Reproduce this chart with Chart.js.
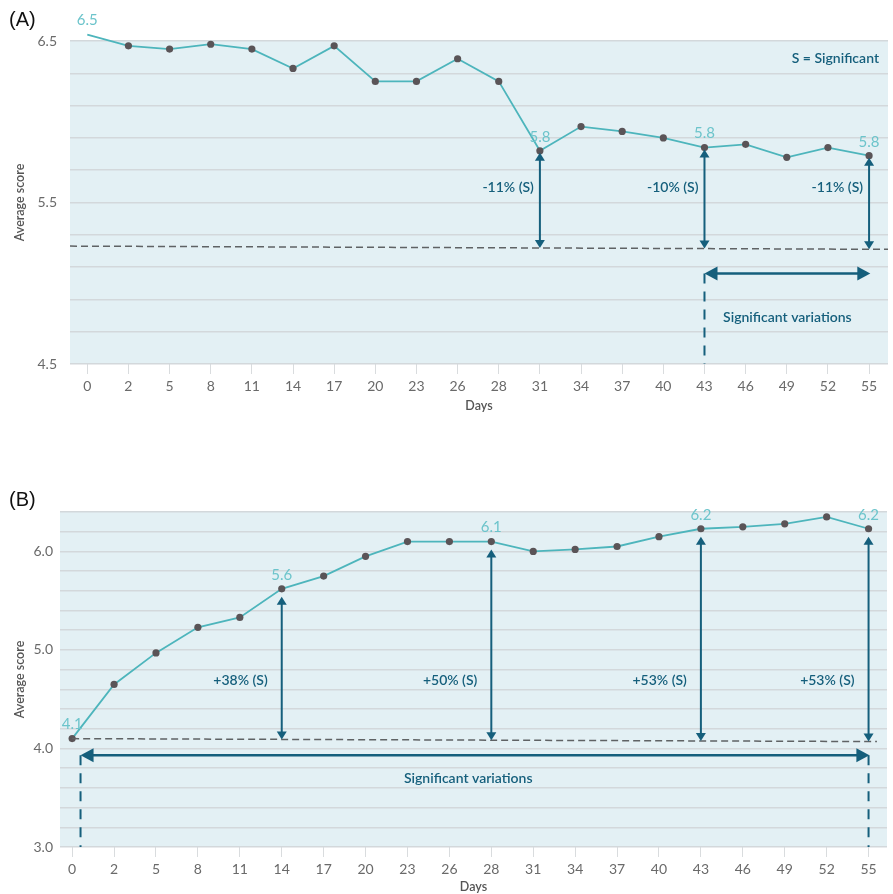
<!DOCTYPE html>
<html><head><meta charset="utf-8">
<script src="https://cdn.jsdelivr.net/npm/chart.js@4.4.1/dist/chart.umd.min.js"></script>
<style>
html,body{margin:0;padding:0;background:#fff;overflow:hidden;}
#wrapA{position:absolute;left:0;top:0;width:893px;height:430px;}
#wrapB{position:absolute;left:0;top:440px;width:893px;height:454px;}
</style></head><body>
<div id="wrapA"><canvas id="cA"></canvas></div>
<div id="wrapB"><canvas id="cB"></canvas></div>
<script>
// ---- data ----
const days = ['0','2','5','8','11','14','17','20','23','26','28','31','34','37','40','43','46','49','52','55'];
const scoresA = [6.54,6.47,6.45,6.48,6.45,6.33,6.47,6.25,6.25,6.39,6.25,5.82,5.97,5.94,5.90,5.84,5.86,5.78,5.84,5.79];
const scoresB = [4.10,4.65,4.97,5.23,5.33,5.62,5.75,5.95,6.10,6.10,6.10,6.00,6.02,6.05,6.15,6.23,6.25,6.28,6.35,6.23];
const yLabelsA = [4.5,5.5,6.5];
const yLabelsB = [3.0,4.0,5.0,6.0];
const baselineA = [5.23,5.21];
const baselineB = [4.10,4.07];
const labelledDaysA = ['0','31','43','55'];
const labelledDaysB = ['0','14','28','43','55'];
const changeDaysA = ['31','43','55'];
const changeTextA = ['-11% (S)','-10% (S)','-11% (S)'];
const changeDaysB = ['14','28','43','55'];
const changeTextB = ['+38% (S)','+50% (S)','+53% (S)','+53% (S)'];
const sigTextA = 'Significant variations';
const sigTextB = 'Significant variations';
const legendNoteA = 'S = Significant';

const ARROW = '#155f7c';
const FONT = 'Lato, "Open Sans", sans-serif';

function idx(d){ return days.indexOf(d); }
function val(p){ return (p !== null && typeof p === 'object') ? p.y : p; }

const notesPlugin = {
  id: 'notes',
  beforeDraw(chart, args, o) {
    const {ctx, chartArea: a} = chart;
    ctx.save();
    ctx.fillStyle = '#e3f0f4';
    ctx.fillRect(a.left, a.top, a.right - a.left, a.bottom - a.top);
    ctx.restore();
  },
  afterDatasetsDraw(chart, args, o) {
    const {ctx, chartArea: a, scales: {x, y}} = chart;
    const data = chart.data.datasets[0].data.map(val);
    const bx0 = o.baseFrom, bx1 = o.baseTo;
    const baseAt = (i) => o.baseline[0] + (o.baseline[1] - o.baseline[0]) * (i - bx0) / (bx1 - bx0);
    ctx.save();
    // dashed baseline
    ctx.strokeStyle = '#5f6264';
    ctx.lineWidth = 1.5;
    ctx.setLineDash([7, 4]);
    ctx.beginPath();
    ctx.moveTo(x.getPixelForValue(bx0), y.getPixelForValue(o.baseline[0]));
    ctx.lineTo(x.getPixelForValue(bx1), y.getPixelForValue(o.baseline[1]));
    ctx.stroke();
    ctx.setLineDash([]);

    // vertical change arrows
    ctx.strokeStyle = ARROW; ctx.fillStyle = ARROW; ctx.lineWidth = 2;
    o.changeDays.forEach((d, k) => {
      const i = idx(d);
      const px = x.getPixelForValue(i);
      const yt = y.getPixelForValue(data[i]) + o.arrowGap;
      const yb = y.getPixelForValue(baseAt(i));
      const h = 8, w = 5;
      ctx.beginPath(); ctx.moveTo(px, yt + h - 1); ctx.lineTo(px, yb - h + 1); ctx.stroke();
      ctx.beginPath(); ctx.moveTo(px, yt); ctx.lineTo(px - w, yt + h); ctx.lineTo(px + w, yt + h); ctx.closePath(); ctx.fill();
      ctx.beginPath(); ctx.moveTo(px, yb); ctx.lineTo(px - w, yb - h); ctx.lineTo(px + w, yb - h); ctx.closePath(); ctx.fill();
      ctx.font = '600 14px ' + FONT;
      ctx.textAlign = 'right'; ctx.textBaseline = 'middle';
      ctx.fillText(o.changeText[k], px - o.labelGap, y.getPixelForValue(o.changeLabelY));
    });

    // significant range arrow
    const sy = y.getPixelForValue(o.sigLevel);
    const sx0 = x.getPixelForValue(o.sigFrom), sx1 = x.getPixelForValue(o.sigTo);
    const hh = 13, hw = 7;
    ctx.lineWidth = 2.5;
    ctx.beginPath(); ctx.moveTo(sx0 + hh - 1, sy); ctx.lineTo(sx1 - hh + 1, sy); ctx.stroke();
    ctx.beginPath(); ctx.moveTo(sx0, sy); ctx.lineTo(sx0 + hh, sy - hw); ctx.lineTo(sx0 + hh, sy + hw); ctx.closePath(); ctx.fill();
    ctx.beginPath(); ctx.moveTo(sx1, sy); ctx.lineTo(sx1 - hh, sy - hw); ctx.lineTo(sx1 - hh, sy + hw); ctx.closePath(); ctx.fill();
    ctx.lineWidth = 2;
    ctx.setLineDash([10, 8]);
    o.sigDrops.forEach(v => {
      const px = x.getPixelForValue(v);
      ctx.beginPath(); ctx.moveTo(px, sy); ctx.lineTo(px, a.bottom); ctx.stroke();
    });
    ctx.setLineDash([]);
    ctx.font = '600 14px ' + FONT;
    ctx.textAlign = 'center'; ctx.textBaseline = 'middle';
    ctx.fillText(o.sigText, o.sigTextX === null ? (sx0 + sx1) / 2 : x.getPixelForValue(o.sigTextX), y.getPixelForValue(o.sigTextY));

    // value labels
    ctx.fillStyle = '#6cc4cb';
    ctx.font = '15px ' + FONT;
    o.labelled.forEach(d => {
      const i = idx(d);
      ctx.fillText(data[i].toFixed(1), x.getPixelForValue(i), y.getPixelForValue(data[i]) - 14);
    });
    ctx.restore();
  },
  afterDraw(chart, args, o) {
    const ctx = chart.ctx;
    ctx.save();
    ctx.fillStyle = '#111';
    ctx.font = '20px "Liberation Sans", Arial, sans-serif';
    ctx.textAlign = 'left'; ctx.textBaseline = 'middle';
    ctx.fillText(o.panel, 9, o.panelY);
    if (o.note) {
      ctx.fillStyle = ARROW;
      ctx.font = '600 14px ' + FONT;
      ctx.textAlign = 'right';
      ctx.fillText(o.note, 879, o.noteY);
    }
    ctx.restore();
  }
};

function make(canvasId, g) {
  const H = g.H;
  return new Chart(document.getElementById(canvasId), {
    type: 'line',
    data: {
      labels: days,
      datasets: [{
        data: g.values.map((v, i) => ({x: i, y: v})),
        borderColor: '#4db5bc',
        borderWidth: 1.8,
        pointRadius: 3.6,
        pointBackgroundColor: '#5a5457',
        pointBorderWidth: 0,
        tension: 0,
        clip: false
      }]
    },
    options: {
      responsive: true,
      maintainAspectRatio: false,
      animation: false,
      events: [],
      layout: {padding: {top: g.top, right: 893 - g.right, left: 0, bottom: 0}},
      plugins: {
        legend: {display: false},
        tooltip: {enabled: false},
        notes: g.notes
      },
      scales: {
        x: {
          type: 'linear',
          min: g.xMin, max: g.xMax,
          afterBuildTicks: s => { s.ticks = days.map((d, i) => ({value: i})); },
          afterFit: s => { s.height = H - g.bottom; },
          ticks: {
            autoSkip: false, maxRotation: 0,
            callback: v => days[v] ?? '',
            color: '#6a6a6a', font: {family: FONT, size: 14}, padding: 4
          },
          grid: {drawOnChartArea: false, drawTicks: true, tickLength: 10, color: '#d9dcde', lineWidth: 1},
          border: {display: false},
          title: {display: true, text: 'Days', color: '#555', font: {family: FONT, size: 12.5, weight: '600'}, padding: {top: 0, bottom: g.xTitlePad}}
        },
        y: {
          min: g.yMin, max: g.yMax,
          afterBuildTicks: s => {
            const t = [];
            for (let k = 0; g.yMin + k * 0.2 <= g.yMax + 1e-6; k++) t.push({value: Math.round((g.yMin + k * 0.2) * 10) / 10});
            s.ticks = t;
          },
          afterFit: s => { s.width = g.left; },
          ticks: {
            autoSkip: false,
            callback: v => g.yLabels.some(l => Math.abs(l - v) < 1e-6) ? v.toFixed(1) : '',
            color: '#6a6a6a', font: {family: FONT, size: 14}, padding: g.yTickPad
          },
          grid: {drawTicks: false, color: '#d3d8db', lineWidth: 1.5},
          border: {display: false},
          title: {display: true, text: 'Average score', color: '#555', font: {family: FONT, size: 12.5, weight: '600'}, padding: {top: 12, bottom: 0}}
        }
      }
    },
    plugins: [notesPlugin]
  });
}

make('cA', {
  H: 430, top: 41, bottom: 364, left: 70, right: 888,
  xMin: -0.42, xMax: 19.46, yMin: 4.5, yMax: 6.5,
  values: scoresA, yLabels: yLabelsA, yTickPad: 13, xTitlePad: 17,
  notes: {
    baseline: baselineA, baseFrom: -0.42, baseTo: 19.46,
    changeDays: changeDaysA, changeText: changeTextA, changeLabelY: 5.59,
    arrowGap: 2, labelGap: 6,
    sigLevel: 5.06, sigFrom: 15, sigTo: 19.03, sigDrops: [15],
    sigText: sigTextA, sigTextX: null, sigTextY: 4.79,
    labelled: labelledDaysA,
    panel: '(A)', panelY: 20, note: legendNoteA, noteY: 58
  }
});

make('cB', {
  H: 454, top: 72, bottom: 407, left: 60, right: 887,
  xMin: -0.29, xMax: 19.44, yMin: 3.0, yMax: 6.4,
  values: scoresB, yLabels: yLabelsB, yTickPad: 7, xTitlePad: 0,
  notes: {
    baseline: baselineB, baseFrom: 0, baseTo: 19.2,
    changeDays: changeDaysB, changeText: changeTextB, changeLabelY: 4.69,
    arrowGap: 8, labelGap: 14,
    sigLevel: 3.93, sigFrom: 0.2, sigTo: 19.02, sigDrops: [0.2, 19],
    sigText: sigTextB, sigTextX: 9.45, sigTextY: 3.70,
    labelled: labelledDaysB,
    panel: '(B)', panelY: 60, note: null, noteY: 0
  }
});
</script>
</body></html>
